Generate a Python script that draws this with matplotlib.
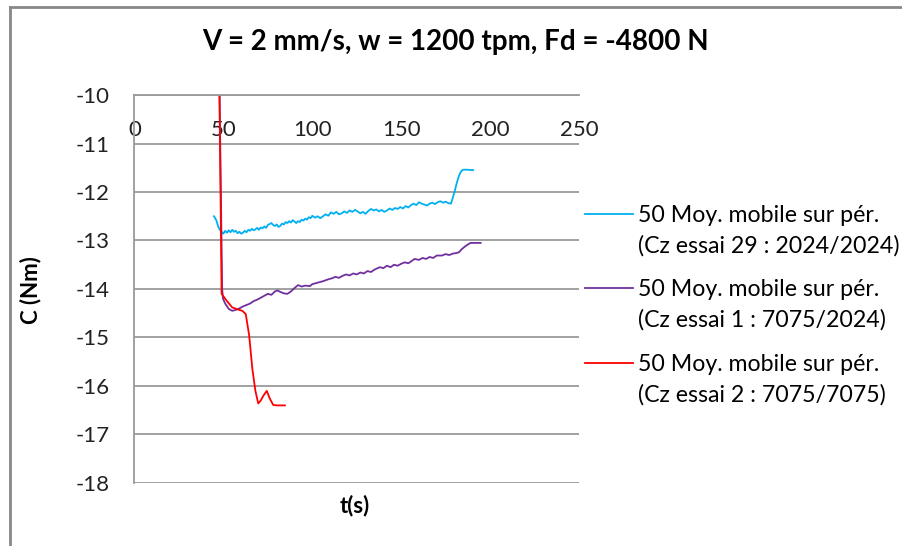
import matplotlib
matplotlib.use('Agg')
import matplotlib.pyplot as plt
from matplotlib.lines import Line2D

plt.rcParams['font.family'] = ['Lato', 'DejaVu Sans']
plt.rcParams['axes.unicode_minus'] = False

# Essai 29 : 2024/2024 (bleu)
t_29 = [44.7, 46, 47, 48, 49, 50, 51, 52, 53, 54, 55, 56, 57, 58, 59, 60,
        61, 62, 63, 64, 65, 66, 67, 68, 69, 70, 71, 72, 73, 74, 75, 76, 77,
        78, 79, 80, 81, 82, 83, 84, 85, 86, 87, 88, 89, 90, 91, 92, 93, 94,
        95, 96, 97, 98, 99, 100, 101.5, 103, 104.5, 106, 107.5, 109, 110.5,
        112, 113.5, 115, 116.5, 118, 119.5, 121, 122.5, 124, 125.5, 127,
        128.5, 130, 131.5, 133, 134.5, 136, 137.5, 139, 140.5, 142, 143.5,
        145, 146.5, 148, 149.5, 151, 152.5, 154, 155.5, 157, 158.5, 160,
        161.5, 163, 164.5, 166, 167.5, 169, 170.5, 172, 173.5, 175, 176.5,
        178, 179, 180, 181, 182, 183, 184, 185, 187, 190.5]
c_29 = [-12.50, -12.58, -12.70, -12.78, -12.82, -12.86, -12.80, -12.84,
        -12.79, -12.83, -12.78, -12.82, -12.80, -12.85, -12.82, -12.86,
        -12.84, -12.80, -12.83, -12.78, -12.80, -12.76, -12.79, -12.77,
        -12.74, -12.78, -12.73, -12.75, -12.71, -12.74, -12.68, -12.66,
        -12.64, -12.68, -12.70, -12.67, -12.72, -12.70, -12.65, -12.67,
        -12.62, -12.64, -12.60, -12.63, -12.58, -12.61, -12.64, -12.60,
        -12.62, -12.57, -12.59, -12.55, -12.57, -12.52, -12.54, -12.49,
        -12.53, -12.50, -12.54, -12.50, -12.46, -12.49, -12.42, -12.45,
        -12.41, -12.46, -12.44, -12.40, -12.43, -12.38, -12.41, -12.37,
        -12.40, -12.44, -12.41, -12.45, -12.39, -12.35, -12.38, -12.36,
        -12.40, -12.37, -12.41, -12.38, -12.34, -12.37, -12.33, -12.35,
        -12.31, -12.34, -12.29, -12.32, -12.27, -12.24, -12.27, -12.21,
        -12.24, -12.26, -12.28, -12.24, -12.22, -12.25, -12.21, -12.19,
        -12.22, -12.20, -12.23, -12.24, -12.12, -12.00, -11.85, -11.72,
        -11.62, -11.56, -11.54, -11.54, -11.55]

# Essai 1 : 7075/2024 (violet)
t_1 = [47.5, 49.3, 49.8, 51, 53, 55, 57, 59, 61, 63, 65, 67, 69, 71, 73,
       75, 77, 79, 80.5, 82, 84, 86, 88, 90, 92, 94, 96, 98.7, 100, 102,
       104, 106, 109, 111, 113, 115, 117, 119, 121, 123, 125, 127, 129,
       131, 133, 135, 138, 140, 142, 144, 146, 148, 150, 152, 154, 156,
       157.5, 160, 162, 164, 166, 168, 170, 173, 175, 177, 179, 181, 182.6,
       184, 186, 188, 189, 194.7]
c_1 = [-9.0, -14.0, -14.2, -14.3, -14.41, -14.45, -14.43, -14.40, -14.36,
       -14.33, -14.30, -14.25, -14.22, -14.18, -14.14, -14.10, -14.12,
       -14.05, -14.03, -14.06, -14.09, -14.10, -14.05, -13.98, -13.92,
       -13.95, -13.93, -13.94, -13.90, -13.88, -13.86, -13.84, -13.80,
       -13.78, -13.75, -13.77, -13.73, -13.70, -13.72, -13.68, -13.70,
       -13.66, -13.68, -13.63, -13.65, -13.60, -13.55, -13.57, -13.52,
       -13.55, -13.50, -13.52, -13.48, -13.45, -13.47, -13.42, -13.38,
       -13.40, -13.36, -13.38, -13.34, -13.36, -13.31, -13.31, -13.28,
       -13.30, -13.27, -13.26, -13.24, -13.18, -13.12, -13.07, -13.05,
       -13.05]

# Essai 2 : 7075/7075 (rouge)
t_2 = [47.5, 49.0, 50, 52, 55, 58, 60.7, 62.6, 64.5, 66.3, 68, 69.6, 71,
       72.5, 74.4, 76, 78, 80, 84.6]
c_2 = [-9.0, -14.1, -14.15, -14.25, -14.38, -14.42, -14.45, -14.52, -14.96,
       -15.65, -16.1, -16.36, -16.3, -16.2, -16.1, -16.25, -16.39, -16.4,
       -16.4]

labels = ['50 Moy. mobile sur pér.\n(Cz essai 29 : 2024/2024)',
          '50 Moy. mobile sur pér.\n(Cz essai 1 : 7075/2024)',
          '50 Moy. mobile sur pér.\n(Cz essai 2 : 7075/7075)']
colors = ['#00B0F0', '#7030A0', '#FF0000']

fig = plt.figure(figsize=(9.02, 5.46), dpi=100)
ax = fig.add_axes([0.1491, 0.1154, 0.4928, 0.7106])

ax.plot(t_29, c_29, color=colors[0], lw=1.3, label=labels[0])
ax.plot(t_1, c_1, color=colors[1], lw=1.3, label=labels[1])
ax.plot(t_2, c_2, color=colors[2], lw=1.3, label=labels[2])

ax.set_xlim(0, 250)
ax.set_ylim(-18, -10)
ax.set_xticks(range(0, 251, 50))
ax.set_yticks(range(-18, -9))

grid_c = '#9a9a9a'
ax.grid(axis='y', color=grid_c, lw=1.3)
ax.set_axisbelow(True)
ax.spines['bottom'].set_position(('data', -10))
ax.spines['bottom'].set_color(grid_c)
ax.spines['bottom'].set_linewidth(1.3)
ax.spines['left'].set_color(grid_c)
ax.spines['left'].set_linewidth(1.3)
ax.spines['top'].set_visible(False)
ax.spines['right'].set_visible(False)
ax.tick_params(axis='both', length=0, labelsize=16, colors='#222222')
ax.tick_params(axis='x', pad=18)
ax.tick_params(axis='y', pad=18)

ax.set_xlabel('t(s)', fontsize=16, fontweight='bold')
ax.xaxis.set_label_coords(0.496, -0.057)
ax.xaxis.label.set_verticalalignment('center')
ax.set_ylabel('C (Nm)', fontsize=16, fontweight='bold')
ax.yaxis.set_label_coords(-0.235, 0.497)
ax.yaxis.label.set_verticalalignment('center')

fig.text(0.505, 0.923, 'V = 2 mm/s, w = 1200 tpm, Fd = -4800 N',
         fontsize=20, fontweight='bold', ha='center', va='center')

leg_fs = 16.7
leg_ls = 1.5
leg = ax.legend(loc='upper left', bbox_to_anchor=(585 / 902, 1 - 205 / 546),
                bbox_transform=fig.transFigure, frameon=False, fontsize=leg_fs,
                handlelength=2.05, handletextpad=0.22, labelspacing=1.0,
                borderpad=0, borderaxespad=0)
for txt in leg.get_texts():
    txt.set_linespacing(leg_ls)
# trait de la légende sur la première ligne du texte
for h in leg.legend_handles:
    h.set_ydata([y + 0.5 * leg_ls * leg_fs for y in h.get_ydata()])

# cadre de la zone de graphique
fig.add_artist(Line2D([10 / 902, 10 / 902], [0, 1 - 7 / 546], color='#888888', lw=2))
fig.add_artist(Line2D([10 / 902, 1], [1 - 7 / 546, 1 - 7 / 546], color='#888888', lw=2))

fig.savefig('out.png', dpi=100)
